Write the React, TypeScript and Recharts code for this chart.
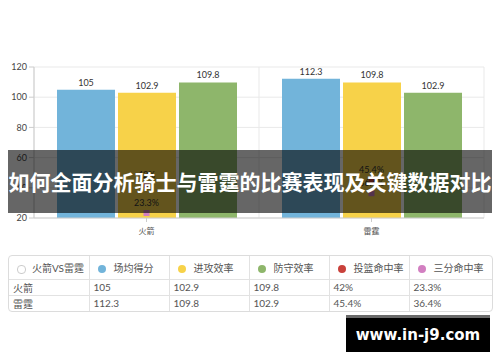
import React from "react"
import { Bar, ComposedChart, Line, XAxis, YAxis, CartesianGrid, LabelList } from "recharts"

const teams = ["火箭", "雷霆"]
const avgPoints = [105, 112.3]
const offense = [102.9, 109.8]
const defense = [109.8, 102.9]
const fgPct = [42, 45.4]
const threePct = [23.3, 36.4]
const yTicks = [20, 40, 60, 80, 100, 120]

const seriesNames = ["场均得分", "进攻效率", "防守效率", "投篮命中率", "三分命中率"]
const colors = ["#72b4da", "#f7d249", "#8eb66b", "#c9413b", "#d27fc1"]

const data = teams.map((t, i) => ({
    team: t,
    avgPoints: avgPoints[i],
    offense: offense[i],
    defense: defense[i],
    fgPct: fgPct[i],
    threePct: threePct[i],
}))

const squareDot = (color: string) => (props: any) => {
    const { cx, cy, index } = props
    if (cx == null || cy == null) return <g key={index} />
    return <rect key={index} x={cx - 3} y={cy - 3} width={6} height={6} fill={color} />
}

const cellStyle: React.CSSProperties = {
    borderRight: "1px solid #e2e2e2",
    borderTop: "1px solid #e2e2e2",
    padding: "0 4px",
    textAlign: "left",
    overflow: "hidden",
    whiteSpace: "nowrap",
}

export default function App() {
    const font = "'Lato', 'Noto Sans CJK SC', sans-serif"
    return (
        <div style={{ position: "absolute", left: 0, top: 0, width: 500, height: 362, background: "#fff", fontFamily: font, overflow: "hidden" }}>
            <ComposedChart
                width={500}
                height={250}
                data={data}
                margin={{ top: 67, right: 16, bottom: 8, left: 0 }}
                barGap={3}
                barCategoryGap={23}
            >
                <CartesianGrid
                    stroke="#e9e9e9"
                    verticalCoordinatesGenerator={({ offset }: any) => [
                        offset.left,
                        offset.left + offset.width / 2,
                        offset.left + offset.width,
                    ]}
                />
                <XAxis
                    dataKey="team"
                    height={24}
                    tick={{ fontSize: 8, fill: "#555", dy: 4 }}
                    stroke="#cccccc"
                    tickSize={4}
                />
                <YAxis
                    domain={[20, 120]}
                    ticks={yTicks}
                    width={34}
                    tick={{ fontSize: 9, fill: "#444" }}
                    stroke="#cccccc"
                    tickSize={5}
                    allowDataOverflow
                />
                <Bar dataKey="avgPoints" name={seriesNames[0]} fill={colors[0]} isAnimationActive={false}>
                    <LabelList dataKey="avgPoints" position="top" fontSize={9} fill="#333" offset={4} />
                </Bar>
                <Bar dataKey="offense" name={seriesNames[1]} fill={colors[1]} isAnimationActive={false}>
                    <LabelList dataKey="offense" position="top" fontSize={9} fill="#333" offset={4} />
                </Bar>
                <Bar dataKey="defense" name={seriesNames[2]} fill={colors[2]} isAnimationActive={false}>
                    <LabelList dataKey="defense" position="top" fontSize={9} fill="#333" offset={4} />
                </Bar>
                <Line
                    dataKey="fgPct"
                    name={seriesNames[3]}
                    stroke="none"
                    dot={squareDot(colors[3])}
                    activeDot={false}
                    isAnimationActive={false}
                >
                    <LabelList dataKey="fgPct" position="top" fontSize={9} fill="#333" offset={7} formatter={(v: any) => `${v}%`} />
                </Line>
                <Line
                    dataKey="threePct"
                    name={seriesNames[4]}
                    stroke="none"
                    dot={squareDot(colors[4])}
                    activeDot={false}
                    isAnimationActive={false}
                >
                    <LabelList dataKey="threePct" position="top" fontSize={9} fill="#333" offset={7} formatter={(v: any) => `${v}%`} />
                </Line>
            </ComposedChart>

            {/* title banner over the chart */}
            <div
                style={{
                    position: "absolute",
                    left: 8,
                    top: 150,
                    width: 484,
                    height: 63,
                    background: "rgba(0,0,0,0.6)",
                    color: "#fff",
                    fontFamily: "'Noto Sans CJK SC', sans-serif",
                    fontWeight: 700,
                    fontSize: 21,
                    lineHeight: "63px",
                    textAlign: "center",
                    whiteSpace: "nowrap",
                }}
            >
                如何全面分析骑士与雷霆的比赛表现及关键数据对比
            </div>

            {/* data table */}
            <div
                style={{
                    position: "absolute",
                    left: 8,
                    top: 255,
                    width: 483,
                    border: "1px solid #dcdcdc",
                    borderRadius: 4,
                    overflow: "hidden",
                }}
            >
                <table style={{ borderCollapse: "collapse", width: 483, fontSize: 10, color: "#555", fontFamily: font, tableLayout: "fixed" }}>
                    <colgroup>
                        <col style={{ width: 80 }} />
                        <col style={{ width: 80 }} />
                        <col style={{ width: 80 }} />
                        <col style={{ width: 80 }} />
                        <col style={{ width: 80 }} />
                        <col style={{ width: 83 }} />
                    </colgroup>
                    <thead>
                        <tr style={{ height: 23 }}>
                            <th style={{ ...cellStyle, borderTop: "none", fontWeight: 400, paddingLeft: 8 }}>
                                <span style={{ display: "inline-block", width: 7, height: 7, borderRadius: 4, border: "1px solid #ccc", marginRight: 6, verticalAlign: "middle" }} />
                                火箭VS雷霆
                            </th>
                            {seriesNames.map((n, i) => (
                                <th key={n} style={{ ...cellStyle, borderTop: "none", fontWeight: 400, paddingLeft: 8, borderRight: i === 4 ? "none" : cellStyle.borderRight }}>
                                    <span style={{ display: "inline-block", width: 8, height: 8, borderRadius: 4, background: colors[i], marginRight: 8, verticalAlign: "middle" }} />
                                    {n}
                                </th>
                            ))}
                        </tr>
                    </thead>
                    <tbody>
                        {teams.map((t, i) => {
                            const vals = [String(avgPoints[i]), String(offense[i]), String(defense[i]), `${fgPct[i]}%`, `${threePct[i]}%`]
                            return (
                                <tr key={t} style={{ height: 16 }}>
                                    <td style={cellStyle}>{t}</td>
                                    {vals.map((v, j) => (
                                        <td key={j} style={{ ...cellStyle, borderRight: j === 4 ? "none" : cellStyle.borderRight }}>{v}</td>
                                    ))}
                                </tr>
                            )
                        })}
                    </tbody>
                </table>
            </div>

            {/* watermark */}
            <div style={{ position: "absolute", left: 346, top: 315, width: 144, height: 3, background: "#6a6a6a" }} />
            <div
                style={{
                    position: "absolute",
                    left: 346,
                    top: 318,
                    width: 144,
                    height: 34,
                    background: "#000",
                    color: "#fff",
                    fontFamily: "'DejaVu Sans', sans-serif",
                    fontWeight: 700,
                    fontSize: 15,
                    lineHeight: "34px",
                    textAlign: "center",
                }}
            >
                www.in-j9.com
            </div>
        </div>
    )
}
